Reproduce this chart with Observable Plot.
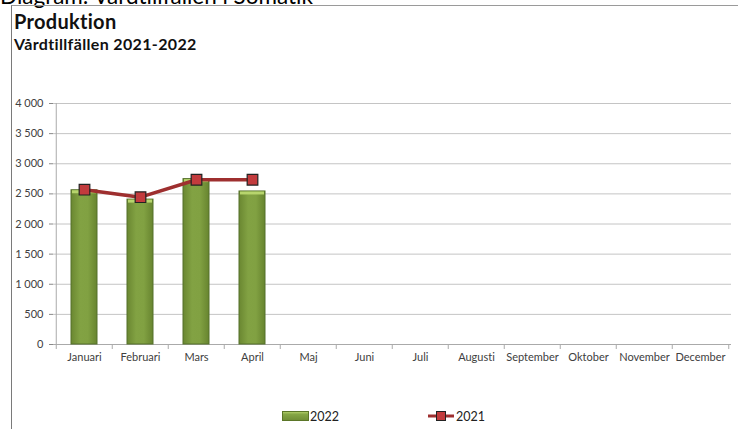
<!DOCTYPE html>
<html>
<head>
<meta charset="utf-8">
<script src="https://cdn.jsdelivr.net/npm/d3@7"></script>
<script src="https://cdn.jsdelivr.net/npm/@observablehq/plot@0.6"></script>
<style>
  html, body { margin: 0; padding: 0; background: #fff; }
  #wrap { position: relative; width: 738px; height: 429px; overflow: hidden; font-family: Lato, "Open Sans", sans-serif; font-variant-ligatures: none; }
  #pretitle { position: absolute; left: 0; top: -15.5px; font-size: 22.5px; line-height: 1; color: #000; white-space: nowrap; }
  #frame { position: absolute; left: 11px; top: 5px; width: 740px; height: 440px; border-top: 1.5px solid #9a9a9a; border-left: 1.5px solid #7a7a7a; }
  #title { position: absolute; left: 14px; top: 10.5px; font-size: 20px; line-height: 1; font-weight: bold; color: #111; letter-spacing: 0.3px; }
  #subtitle { position: absolute; left: 14px; top: 35.5px; font-size: 16px; line-height: 1; font-weight: bold; color: #111; letter-spacing: 0.35px; }
  #chart { position: absolute; left: 0; top: 0; }
  #legend { position: absolute; top: 406px; left: 0; width: 738px; height: 20px; font-size: 12.5px; color: #222; }
  .li { position: absolute; top: 0; display: flex; align-items: center; height: 20px; }
</style>
</head>
<body>
<div id="wrap">
  <div id="pretitle">Diagram: Vårdtillfällen i Somatik</div>
  <div id="frame"></div>
  <div id="title">Produktion</div>
  <div id="subtitle">Vårdtillfällen 2021-2022</div>
  <div id="chart"></div>
  <div id="legend">
    <div class="li" style="left:282px">
      <svg width="27" height="12"><defs><linearGradient id="lg" x1="0" x2="0" y1="0" y2="1"><stop offset="0" stop-color="#b9d56f"/><stop offset="0.3" stop-color="#86a746"/><stop offset="1" stop-color="#6f8d35"/></linearGradient></defs><rect x="0.5" y="1.5" width="26" height="9" fill="url(#lg)" stroke="#5b7628" stroke-width="1"/></svg>
      <span style="margin-left:1px">2022</span>
    </div>
    <div class="li" style="left:428px">
      <svg width="27" height="12"><line x1="0" x2="26" y1="6" y2="6" stroke="#9e2f2f" stroke-width="3"/><rect x="8.5" y="1.5" width="9" height="9" fill="#c23b3d" stroke="#222" stroke-width="1"/></svg>
      <span style="margin-left:1px">2021</span>
    </div>
  </div>
</div>
<script>
const months = ["Januari","Februari","Mars","April","Maj","Juni","Juli","Augusti","September","Oktober","November","December"];
const yTicks = [0, 500, 1000, 1500, 2000, 2500, 3000, 3500, 4000];
const months2022 = ["Januari","Februari","Mars","April"];
const values2022 = [2560, 2405, 2745, 2540];
const months2021 = ["Januari","Februari","Mars","April"];
const values2021 = [2570, 2445, 2735, 2735];

const d2022 = months2022.map((m, i) => ({month: m, value: values2022[i]}));
const d2021 = months2021.map((m, i) => ({month: m, value: values2021[i]}));

const W = 738, H = 429;
const mL = 53, mR = 7, mT = 103, mB = 85;
const bw = (W - mL - mR) / months.length;
const barInset = 15;
const fmt = d => d3.format(",")(d).replace(/,/g, "\u00a0");

const chart = Plot.plot({
  width: W,
  height: H,
  marginLeft: mL,
  marginRight: mR,
  marginTop: mT,
  marginBottom: mB,
  style: {fontFamily: "Lato, 'Open Sans', sans-serif", fontSize: "11px", color: "#404040", background: "transparent"},
  x: {domain: months, padding: 0, label: null},
  y: {domain: [0, 4000], label: null},
  marks: [
    Plot.gridY(yTicks, {stroke: "#c4c4c4", strokeOpacity: 1}),
    Plot.axisY(yTicks, {tickSize: 4, tickPadding: 6, tickFormat: fmt, stroke: "#888", fontSize: 11, fill: "#404040"}),
    Plot.ruleX([months[0]], {dx: -bw / 2, stroke: "#aaa"}),
    Plot.ruleY([0], {stroke: "#aaa"}),
    Plot.ruleX(months, {x: d => d, dx: -bw / 2, y1: 0, y2: 0, insetBottom: -5, stroke: "#aaa"}),
    Plot.ruleX([months[months.length - 1]], {x: d => d, dx: bw / 2, y1: 0, y2: 0, insetBottom: -5, stroke: "#aaa"}),
    Plot.axisX({tickSize: 0, tickPadding: 9, fontSize: 11, fill: "#404040"}),
    Plot.barY(d2022, {x: "month", y: "value", insetLeft: barInset, insetRight: barInset, fill: "url(#bargrad)", stroke: "#55702a", strokeWidth: 1}),
    Plot.tickY(d2022, {x: "month", y: "value", insetLeft: barInset + 1, insetRight: barInset + 1, dy: 1.5, stroke: "#b7d56d", strokeWidth: 3}),
    Plot.line(d2021, {x: "month", y: "value", stroke: "#9e2f2f", strokeWidth: 3.5}),
    Plot.dot(d2021, {x: "month", y: "value", symbol: "square", r: 6, fill: "#c23b3d", stroke: "#222", strokeWidth: 1.2})
  ]
});

// gradient definition for the bars
const ns = "http://www.w3.org/2000/svg";
const defs = document.createElementNS(ns, "defs");
defs.innerHTML = '<linearGradient id="bargrad" x1="0" x2="1" y1="0" y2="0">' +
  '<stop offset="0" stop-color="#6a8731"/>' +
  '<stop offset="0.35" stop-color="#82a243"/>' +
  '<stop offset="0.65" stop-color="#81a142"/>' +
  '<stop offset="1" stop-color="#67842f"/></linearGradient>';
chart.insertBefore(defs, chart.firstChild);
document.getElementById("chart").appendChild(chart);
</script>
</body>
</html>
